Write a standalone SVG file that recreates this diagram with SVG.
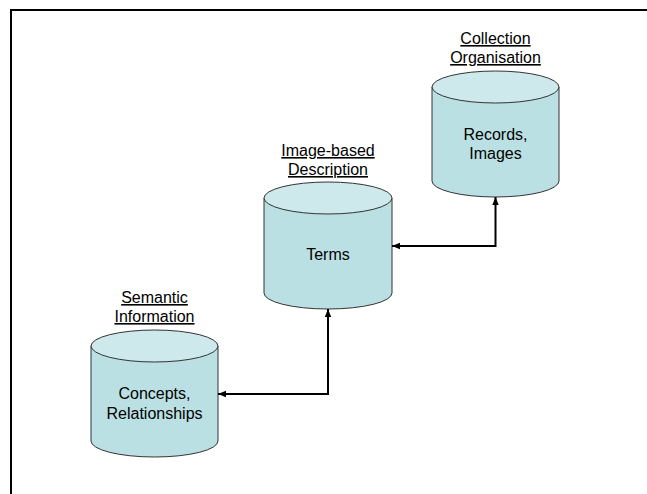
<svg xmlns="http://www.w3.org/2000/svg" width="647" height="494" viewBox="0 0 647 494">
<defs>
<style>
.body{fill:#bbe0e3;stroke:#333;stroke-width:1}
.top{fill:#cde9ec;stroke:#333;stroke-width:1}
.t{font-family:"Liberation Sans",Arial,sans-serif;font-size:16px;fill:#000;text-anchor:middle}
.u{text-decoration:underline}
.conn{fill:none;stroke:#000;stroke-width:2;marker-start:url(#arr);marker-end:url(#arr)}
</style>
<marker id="arr" markerUnits="userSpaceOnUse" markerWidth="8" markerHeight="8" viewBox="0 0 8 8" refX="8" refY="4" orient="auto-start-reverse">
<path d="M0,0.8 L8,4 L0,7.2 z" fill="#000"/>
</marker>
</defs>
<rect width="647" height="494" fill="#fff"/>
<path d="M11 494 V10 H647" fill="none" stroke="#000" stroke-width="2"/>

<g id="collection">
<path class="body" d="M432 87 V181 A63.5 16 0 0 0 559 181 V87 Z"/>
<ellipse class="top" cx="495.5" cy="87" rx="63.5" ry="16"/>
<text class="t u" x="495.5" y="44">Collection</text>
<text class="t u" x="495.5" y="63">Organisation</text>
<text class="t" x="495.5" y="140">Records,</text>
<text class="t" x="495.5" y="159">Images</text>
</g>

<g id="image-based">
<path class="body" d="M264 198 V293 A64 16 0 0 0 392 293 V198 Z"/>
<ellipse class="top" cx="328" cy="198" rx="64" ry="16"/>
<text class="t u" x="328" y="156">Image-based</text>
<text class="t u" x="328" y="175">Description</text>
<text class="t" x="328" y="260">Terms</text>
</g>

<g id="semantic">
<path class="body" d="M91 346 V441 A63.5 16 0 0 0 218 441 V346 Z"/>
<ellipse class="top" cx="154.5" cy="346" rx="63.5" ry="16"/>
<text class="t u" x="154.5" y="303">Semantic</text>
<text class="t u" x="154.5" y="322">Information</text>
<text class="t" x="154.5" y="399">Concepts,</text>
<text class="t" x="154.5" y="419">Relationships</text>
</g>

<g id="connectors">
<path class="conn" d="M392 246 H495.5 V197"/>
<path class="conn" d="M218 394 H328 V309"/>
</g>
</svg>
